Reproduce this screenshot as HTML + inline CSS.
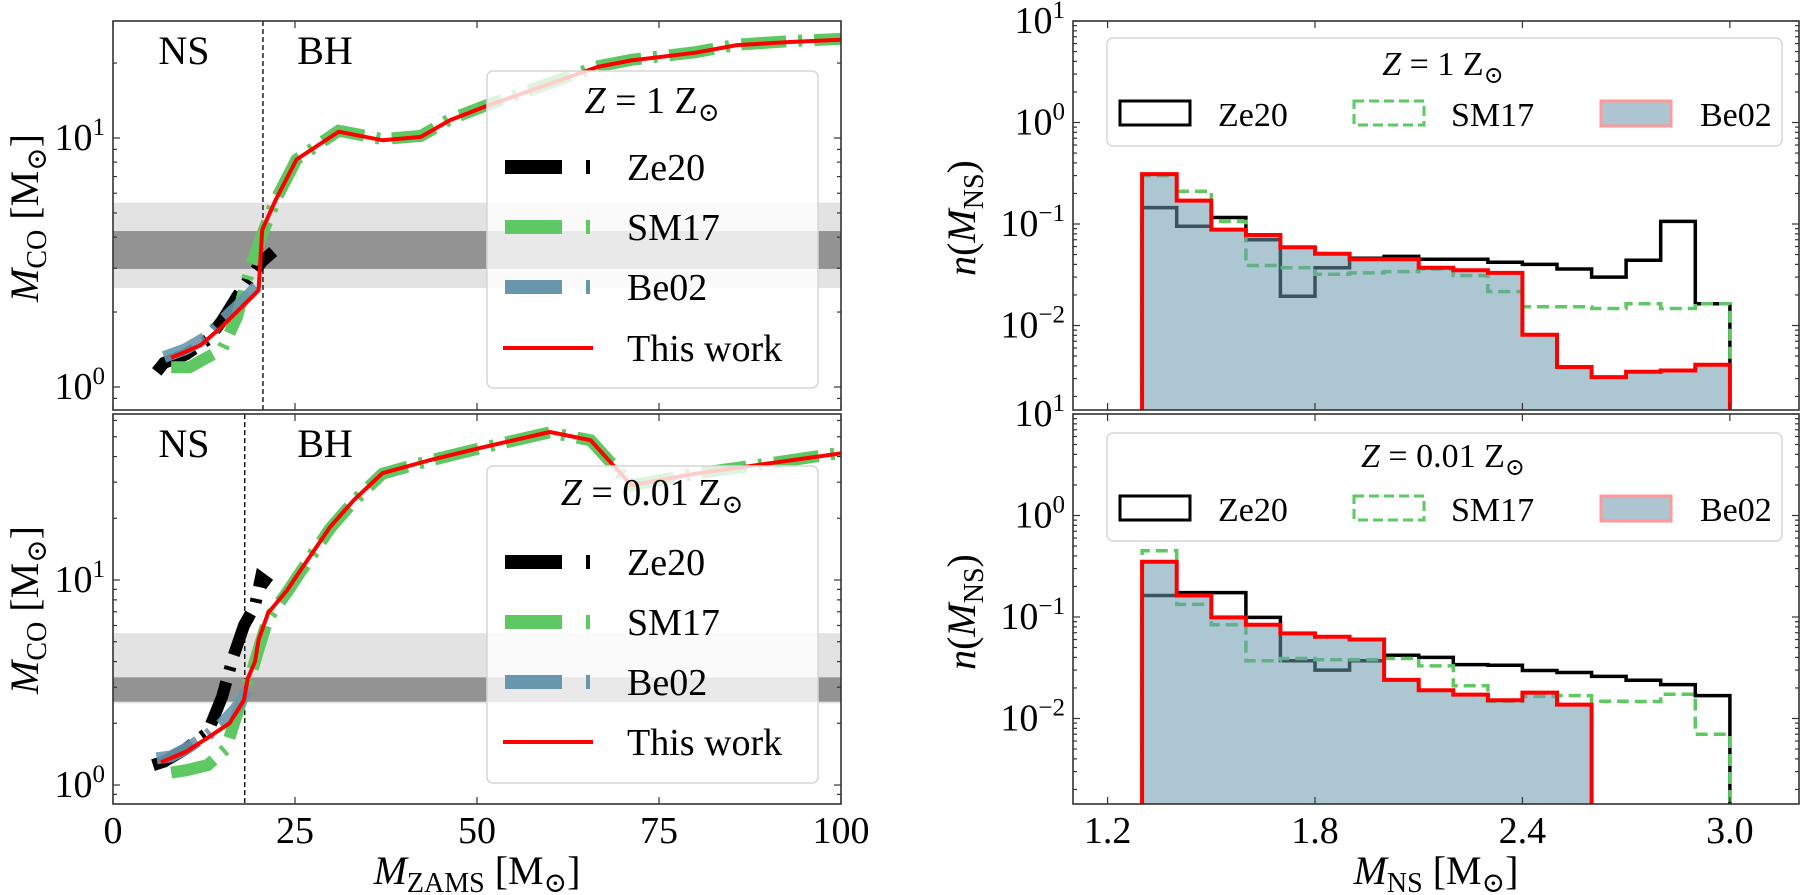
<!DOCTYPE html>
<html><head><meta charset="utf-8"><style>
html,body{margin:0;padding:0;background:#fff;}
svg{display:block;font-family:"Liberation Serif","DejaVu Serif",serif;}
</style></head><body>
<svg id="chart" xmlns="http://www.w3.org/2000/svg" width="1800" height="895" viewBox="0 0 1800 895">
<defs>
<clipPath id="cL1"><rect x="113" y="21" width="728" height="389"/></clipPath>
<clipPath id="cL2"><rect x="113" y="414" width="728" height="390"/></clipPath>
<clipPath id="cR1"><rect x="1073" y="21" width="726" height="389"/></clipPath>
<clipPath id="cR2"><rect x="1073" y="414" width="726" height="390"/></clipPath>
</defs>
<g id="gL1" clip-path="url(#cL1)"></g>
<g id="gL2" clip-path="url(#cL2)"></g>
<g id="gR1" clip-path="url(#cR1)"></g>
<g id="gR2" clip-path="url(#cR2)"></g>
<g id="axes"></g>

<g>
<rect x="487" y="71" width="331" height="317" rx="6" fill="rgba(255,255,255,0.8)" stroke="#d6d6d6" stroke-width="1.5"/>
<text x="652" y="113" font-size="38" text-anchor="middle"><tspan font-style="italic">Z</tspan> = 1 Z<tspan font-size="26" dy="8">⊙</tspan></text>
<rect x="505" y="160" width="57" height="14" fill="#000"/><rect x="586" y="160" width="4" height="14" fill="#000"/>
<text x="627" y="180" font-size="38">Ze20</text>
<rect x="505" y="220" width="57" height="14" fill="#5ec962"/><rect x="586" y="220" width="4" height="14" fill="#5ec962"/>
<text x="627" y="240" font-size="38">SM17</text>
<rect x="505" y="280" width="57" height="14" fill="#6897ad"/><rect x="586" y="280" width="4" height="14" fill="#6897ad"/>
<text x="627" y="300" font-size="38">Be02</text>
<line x1="503" y1="348" x2="593" y2="348" stroke="red" stroke-width="4"/>
<text x="627" y="361" font-size="38">This work</text>
</g>
<g transform="translate(0,395)">
<rect x="487" y="71" width="331" height="317" rx="6" fill="rgba(255,255,255,0.8)" stroke="#d6d6d6" stroke-width="1.5"/>
<text x="652" y="110" font-size="38" text-anchor="middle"><tspan font-style="italic">Z</tspan> = 0.01 Z<tspan font-size="26" dy="8">⊙</tspan></text>
<rect x="505" y="160" width="57" height="14" fill="#000"/><rect x="586" y="160" width="4" height="14" fill="#000"/>
<text x="627" y="180" font-size="38">Ze20</text>
<rect x="505" y="220" width="57" height="14" fill="#5ec962"/><rect x="586" y="220" width="4" height="14" fill="#5ec962"/>
<text x="627" y="240" font-size="38">SM17</text>
<rect x="505" y="280" width="57" height="14" fill="#6897ad"/><rect x="586" y="280" width="4" height="14" fill="#6897ad"/>
<text x="627" y="300" font-size="38">Be02</text>
<line x1="503" y1="347" x2="593" y2="347" stroke="red" stroke-width="4"/>
<text x="627" y="360" font-size="38">This work</text>
</g>

<g>
<rect x="1107" y="38" width="675" height="108" rx="6" fill="rgba(255,255,255,0.8)" stroke="#d6d6d6" stroke-width="1.5"/>
<text x="1443" y="75" font-size="34" text-anchor="middle"><tspan font-style="italic">Z</tspan> = 1 Z<tspan font-size="24" dy="8">⊙</tspan></text>
<rect x="1120" y="101" width="70" height="24" fill="none" stroke="#000" stroke-width="3"/>
<text x="1218" y="126" font-size="34">Ze20</text>
<rect x="1354" y="101" width="70" height="24" fill="none" stroke="#5ec962" stroke-width="3" stroke-dasharray="10 5"/>
<text x="1451" y="126" font-size="34">SM17</text>
<rect x="1601" y="101" width="70" height="25" fill="#acc5d1" stroke="#ff9999" stroke-width="3"/>
<text x="1700" y="126" font-size="34">Be02</text>
</g>
<g transform="translate(0,395)">
<rect x="1107" y="38" width="675" height="108" rx="6" fill="rgba(255,255,255,0.8)" stroke="#d6d6d6" stroke-width="1.5"/>
<text x="1443" y="72" font-size="34" text-anchor="middle"><tspan font-style="italic">Z</tspan> = 0.01 Z<tspan font-size="24" dy="8">⊙</tspan></text>
<rect x="1120" y="101" width="70" height="24" fill="none" stroke="#000" stroke-width="3"/>
<text x="1218" y="126" font-size="34">Ze20</text>
<rect x="1354" y="101" width="70" height="24" fill="none" stroke="#5ec962" stroke-width="3" stroke-dasharray="10 5"/>
<text x="1451" y="126" font-size="34">SM17</text>
<rect x="1601" y="101" width="70" height="25" fill="#acc5d1" stroke="#ff9999" stroke-width="3"/>
<text x="1700" y="126" font-size="34">Be02</text>
</g>

<text transform="translate(38,218) rotate(-90)" font-size="40" text-anchor="middle"><tspan font-style="italic">M</tspan><tspan font-size="28" dy="8">CO</tspan><tspan dy="-8"> [M</tspan><tspan font-size="28" dy="8">⊙</tspan><tspan dy="-8">]</tspan></text>
<text transform="translate(38,610) rotate(-90)" font-size="40" text-anchor="middle"><tspan font-style="italic">M</tspan><tspan font-size="28" dy="8">CO</tspan><tspan dy="-8"> [M</tspan><tspan font-size="28" dy="8">⊙</tspan><tspan dy="-8">]</tspan></text>
<text x="477" y="884" font-size="40" text-anchor="middle"><tspan font-style="italic">M</tspan><tspan font-size="28" dy="8">ZAMS</tspan><tspan dy="-8"> [M</tspan><tspan font-size="28" dy="8">⊙</tspan><tspan dy="-8">]</tspan></text>
<text transform="translate(975,218) rotate(-90)" font-size="40" text-anchor="middle"><tspan font-style="italic">n</tspan>(<tspan font-style="italic">M</tspan><tspan font-size="28" dy="8">NS</tspan><tspan dy="-8">)</tspan></text>
<text transform="translate(975,612) rotate(-90)" font-size="40" text-anchor="middle"><tspan font-style="italic">n</tspan>(<tspan font-style="italic">M</tspan><tspan font-size="28" dy="8">NS</tspan><tspan dy="-8">)</tspan></text>
<text x="1436" y="884" font-size="40" text-anchor="middle"><tspan font-style="italic">M</tspan><tspan font-size="28" dy="8">NS</tspan><tspan dy="-8"> [M</tspan><tspan font-size="28" dy="8">⊙</tspan><tspan dy="-8">]</tspan></text>
</svg>
<script>
// ---- Left panel data (M_ZAMS vs M_CO) ----
const twMassA = [8,12,14.7,20,20.5,22.3,25.2,31,37,42.3,46.3,51.5,60,66.6,71.2,80,85.7,93,100];
const twValA  = [1.31,1.47,1.72,2.45,4.27,5.6,8.2,10.6,9.8,10.1,11.8,13.5,16.5,19.3,20.5,22,23.6,24.3,24.8];
const zeMassA = [6,7,10,13,15,17,19,20.5,22];
const zeValA  = [1.15,1.25,1.35,1.55,1.85,2.3,2.8,3.2,3.5];
const smMassA = [8,10.5,15,17,18.7,20.5,22.3,25.2,31,37,42.3,46.3,51.5,60,66.6,71.2,80,85.7,93,100];
const smValA  = [1.2,1.2,1.42,1.9,2.9,4.1,5.6,8.2,10.7,9.9,10.2,11.9,13.6,16.6,19.4,20.6,22.1,23.7,24.5,25.0];
const beMassA = [7,10,13,15,17,19,20.3];
const beValA  = [1.32,1.42,1.6,1.85,2.1,2.4,2.65];
const bandsA = [[2.5,5.5],[2.98,4.23]];
const divideA = 20.6;

const twMassB = [6.6,10,13,16,18,18.5,19.5,20,21.3,23.9,25.5,29.8,33.1,37,43.6,50.2,60,65.6,71.2,80,90,100];
const twValB  = [1.29,1.45,1.7,2.0,2.6,3.3,4.0,5.1,6.9,8.9,10.8,18.1,24.6,33.2,38.5,43.9,52.7,48.1,29,33,37,41.5];
const zeMassB = [5.5,7,10,13,15,16.5,18,19.5,20.3,21.5];
const zeValB  = [1.25,1.3,1.5,1.8,2.7,4.2,6.0,7.5,10.2,9.5];
const smMassB = [8,10,13,15.5,17,18,19,20,21.3,23.9,25.5,29.8,33.1,37,43.6,50.2,60,65.6,71.2,80,90,100];
const smValB  = [1.15,1.18,1.25,1.5,2.2,2.8,3.5,4.6,6.5,8.7,10.6,17.8,24.3,33,38.3,43.7,52.5,48,29,33,37,41.8];
const beMassB = [6,8,10,13,15,17,18.5];
const beValB  = [1.35,1.38,1.5,1.75,2.0,2.4,2.9];
const bandsB = [[2.5,5.5],[2.55,3.35]];
const divideB = 18.1;

const massTicks = [0,25,50,75,100];

// ---- Right panel data (histograms, bins 1.3..3.0 width 0.1) ----
const binStart = 1.3, binWidth = 0.1;
const zeHistA = [0.145,0.095,0.116,0.07,0.0194,0.037,0.046,0.048,0.045,0.045,0.042,0.040,0.036,0.030,0.044,0.106,0.0164];
const smHistA = [0.30,0.21,0.106,0.039,0.037,0.032,0.033,0.034,0.036,0.031,0.0216,0.0153,0.0153,0.0147,0.0164,0.0147,0.0164];
const beHistA = [0.31,0.17,0.088,0.078,0.059,0.051,0.045,0.045,0.037,0.035,0.033,0.0081,0.0039,0.0031,0.0035,0.0036,0.0041];
const zeHistB = [0.163,0.174,0.174,0.099,0.037,0.030,0.037,0.042,0.040,0.034,0.0334,0.0297,0.0284,0.026,0.0238,0.0216,0.0168];
const smHistB = [0.45,0.133,0.084,0.037,0.039,0.038,0.038,0.039,0.033,0.021,0.0148,0.0165,0.0168,0.0148,0.0147,0.0173,0.0070];
const beHistB = [0.35,0.163,0.099,0.084,0.069,0.064,0.060,0.024,0.019,0.0172,0.0151,0.018,0.0137,0,0,0,0];
const nsTicks = [1.2,1.8,2.4,3.0];
const decadeTicks = [1,0,-1,-2];

const NS='http://www.w3.org/2000/svg';
const svg=document.getElementById('chart');
function mk(tag,attrs,parent){const e=document.createElementNS(NS,tag);for(const k in attrs)e.setAttribute(k,attrs[k]);parent.appendChild(e);return e;}
const L={x0:113,x1:841}; const R={x0:1073,x1:1799};
const panA={top:21,bot:410}, panB={top:414,bot:804};
const xM=m=>L.x0+m*(L.x1-L.x0)/100;
const yA=v=>387-249*Math.log10(v);
const yB=v=>785-205*Math.log10(v);
const xN=n=>R.x0+(n-1.1)*(R.x1-R.x0)/2.1;
const yRA=v=>21-101.5*(Math.log10(v)-1);
const yRB=v=>414-101.5*(Math.log10(v)-1);

function linePts(ms,vs,fy){return ms.map((m,i)=>xM(m).toFixed(1)+','+fy(vs[i]).toFixed(1)).join(' ');}

function drawLeft(g,fy,bands,divide,sets,panel,labelY){
  const b0=mk('rect',{x:L.x0,y:fy(bands[0][1]),width:L.x1-L.x0,height:fy(bands[0][0])-fy(bands[0][1]),fill:'#e3e3e3'},g);
  
  
  const b1=mk('rect',{x:L.x0,y:fy(bands[1][1]),width:L.x1-L.x0,height:fy(bands[1][0])-fy(bands[1][1]),fill:'#939393'},g);
  
  
  const dv=mk('line',{x1:xM(divide),x2:xM(divide),y1:panel.top,y2:panel.bot,stroke:'#000','stroke-width':1.3,'stroke-dasharray':'5 3'},g);
  
  
  const t1=mk('text',{x:184,y:labelY,'font-size':40,'text-anchor':'middle'},g);t1.textContent='NS';
  
  
  const t2=mk('text',{x:325,y:labelY,'font-size':40,'text-anchor':'middle'},g);t2.textContent='BH';
  
  
  const ze=mk('polyline',{points:linePts(sets.zeM,sets.zeV,fy),fill:'none',stroke:'#000','stroke-width':12,'stroke-dasharray':'45 12 4 12'},g);
  
  
  const sm=mk('polyline',{points:linePts(sets.smM,sets.smV,fy),fill:'none',stroke:'#5ec962','stroke-width':12,'stroke-dasharray':'45 12 4 12'},g);
  
  
  const be=mk('polyline',{points:linePts(sets.beM,sets.beV,fy),fill:'none',stroke:'#6897ad','stroke-width':12,'stroke-opacity':0.9,'stroke-dasharray':'45 12 4 12'},g);
  
  
  const tw=mk('polyline',{points:linePts(sets.twM,sets.twV,fy),fill:'none',stroke:'red','stroke-width':4,'stroke-linejoin':'round'},g);
  
  
}
drawLeft(document.getElementById('gL1'),yA,bandsA,divideA,{zeM:zeMassA,zeV:zeValA,smM:smMassA,smV:smValA,beM:beMassA,beV:beValA,twM:twMassA,twV:twValA},panA,64);
drawLeft(document.getElementById('gL2'),yB,bandsB,divideB,{zeM:zeMassB,zeV:zeValB,smM:smMassB,smV:smValB,beM:beMassB,beV:beValB,twM:twMassB,twV:twValB},panB,457);

function stepPath(vals,fy,bot){
  let d='M'+xN(binStart).toFixed(1)+','+bot;
  vals.forEach((v,i)=>{const yy=v>0?fy(v):bot;d+=' L'+xN(binStart+i*binWidth).toFixed(1)+','+yy.toFixed(1)+' L'+xN(binStart+(i+1)*binWidth).toFixed(1)+','+yy.toFixed(1);});
  d+=' L'+xN(binStart+vals.length*binWidth).toFixed(1)+','+bot;
  return d;
}
function drawRight(g,fy,bot,ze,sm,be){
  const z=mk('path',{d:stepPath(ze,fy,bot+3),fill:'none',stroke:'#000','stroke-width':3.5},g);
  
  
  const s=mk('path',{d:stepPath(sm,fy,bot+3),fill:'none',stroke:'#5ec962','stroke-width':3.5,'stroke-dasharray':'12 6'},g);
  
  
  const f=mk('path',{d:stepPath(be,fy,bot+3)+' Z',fill:'rgba(104,151,173,0.55)',stroke:'none'},g);
  
  
  const r=mk('path',{d:stepPath(be,fy,bot+3),fill:'none',stroke:'red','stroke-width':4},g);
  
  
}
drawRight(document.getElementById('gR1'),yRA,panA.bot,zeHistA,smHistA,beHistA);
drawRight(document.getElementById('gR2'),yRB,panB.bot,zeHistB,smHistB,beHistB);

const ax=document.getElementById('axes');
function frame(x0,x1,p,name){
  const r=mk('rect',{x:x0,y:p.top,width:x1-x0,height:p.bot-p.top,fill:'none',stroke:'#333','stroke-width':1.6},ax);
  
  
}
frame(L.x0,L.x1,panA,'frame-top-left');frame(L.x0,L.x1,panB,'frame-bottom-left');
frame(R.x0,R.x1,panA,'frame-top-right');frame(R.x0,R.x1,panB,'frame-bottom-right');
function tk(x1,y1,x2,y2){const l=mk('line',{x1,y1,x2,y2,stroke:'#333','stroke-width':1.2},ax);
  
  }
function lbl(x,y,txt,sup,anchor){
  const t=mk('text',{x,y,'font-size':38,'text-anchor':anchor},ax);
  
  
  t.appendChild(document.createTextNode(txt));
  if(sup!==null){const s=mk('tspan',{dy:-15,'font-size':25},t);s.textContent=sup;}
}
[panA,panB].forEach((p,pi)=>{massTicks.forEach(m=>{tk(xM(m),p.bot,xM(m),p.bot-7);tk(xM(m),p.top,xM(m),p.top+7);
  if(pi===1)lbl(xM(m),843,String(m),null,'middle');});});
[panA,panB].forEach((p,pi)=>{nsTicks.forEach(n=>{tk(xN(n),p.bot,xN(n),p.bot-7);tk(xN(n),p.top,xN(n),p.top+7);
  if(pi===1)lbl(xN(n),843,n.toFixed(1),null,'middle');});});
function yTicks(x0,x1,fy,p,labels){
  for(let e=-4;e<=2;e++)for(let k=1;k<10;k++){const v=k*Math.pow(10,e);const y=fy(v);
    if(y<p.top-0.5||y>p.bot+0.5)continue;const len=k===1?7:4;
    tk(x0,y,x0+len,y);tk(x1,y,x1-len,y);
    if(k===1&&labels.includes(e))lbl(x0-8,y+12,'10',e<0?'\u2212'+(-e):String(e),'end');}
}
yTicks(L.x0,L.x1,yA,panA,[0,1]);
yTicks(L.x0,L.x1,yB,panB,[0,1]);
yTicks(R.x0,R.x1,yRA,panA,decadeTicks);
yTicks(R.x0,R.x1,yRB,panB,decadeTicks);
</script>
</body></html>
